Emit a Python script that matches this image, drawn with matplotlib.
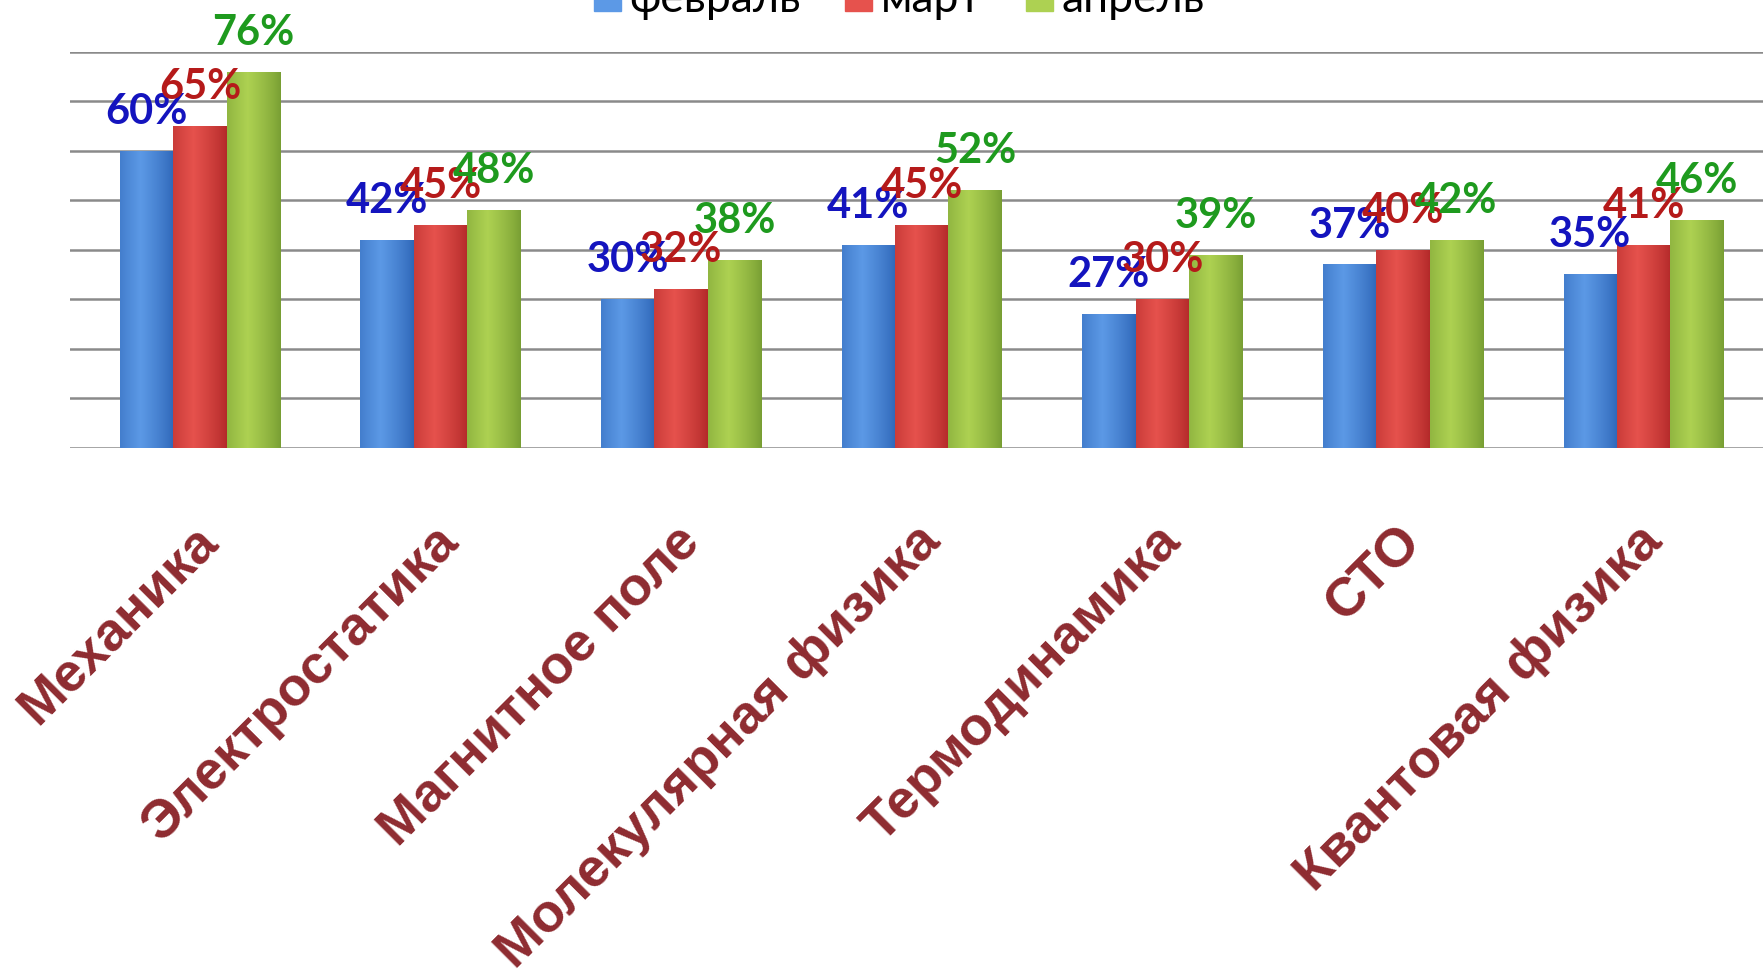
import numpy as np
import matplotlib
matplotlib.use('Agg')
import matplotlib.pyplot as plt
from matplotlib.patches import Patch
from matplotlib.transforms import ScaledTranslation

categories = ['Механика', 'Электростатика', 'Магнитное поле', 'Молекулярная физика',
              'Термодинамика', 'СТО', 'Квантовая физика']
months = ['февраль', 'март', 'апрель']
feb = [60, 42, 30, 41, 27, 37, 35]
mar = [65, 45, 32, 45, 30, 40, 41]
apr = [76, 48, 38, 52, 39, 42, 46]

# (edge colour, highlight colour, label colour)
styles = [
    ((0.18, 0.40, 0.72), (0.36, 0.60, 0.90), '#1414BE'),
    ((0.70, 0.16, 0.16), (0.90, 0.32, 0.30), '#B51A1A'),
    ((0.47, 0.62, 0.20), (0.68, 0.82, 0.32), '#1E9A1E'),
]

fig = plt.figure(figsize=(17.63, 9.71), dpi=100)
ax = fig.add_axes([0.0397, 0.5391, 0.9603, 0.4076])

x = np.arange(len(categories))
w = 0.222
series = [feb, mar, apr]

for i, vals in enumerate(series):
    edge, light, lab_col = styles[i]
    bars = ax.bar(x + (i - 1) * w, vals, w, color=light, zorder=3, linewidth=0)
    # horizontal shading to imitate the rounded bars
    t = np.linspace(0, 1, 64)
    prof = np.clip(1 - np.abs(t - 0.38) / 0.62, 0, 1) ** 0.8
    grad = np.array(edge)[None, :] + (np.array(light) - np.array(edge))[None, :] * prof[:, None]
    grad = grad[None, :, :]
    for b in bars:
        im = ax.imshow(grad, extent=[b.get_x(), b.get_x() + b.get_width(), 0, b.get_height()],
                       aspect='auto', zorder=4, interpolation='bilinear')
        im.set_clip_path(b)
    for xi, v in zip(x + (i - 1) * w, vals):
        ax.annotate(f'{v}%', (xi, v), xytext=(0, 28), textcoords='offset points',
                    ha='center', va='center', color=lab_col, fontsize=30,
                    fontweight='bold', family='Lato', zorder=6)

ax.set_xlim(-0.54, 6.496)
ax.set_ylim(0, 80)
ax.set_yticks(np.arange(0, 81, 10))
ax.set_yticklabels([])
ax.tick_params(axis='y', length=0)
ax.grid(axis='y', color='#8a8a8a', linewidth=1.8, zorder=1)
ax.set_axisbelow(True)
for s in ax.spines.values():
    s.set_visible(False)

ax.set_xticks(x)
ax.set_xticklabels(categories, rotation=45, ha='right', va='center', rotation_mode='anchor',
                   fontsize=39, fontweight='bold', family='Liberation Sans', color='#8E2B30')
ax.tick_params(axis='x', length=0, pad=62)
off = ScaledTranslation(0.10, 0, fig.dpi_scale_trans)
for lab in ax.get_xticklabels():
    lab.set_transform(lab.get_transform() + off)

handles = [Patch(color=styles[i][1], label=months[i]) for i in range(3)]
fig.legend(handles=handles, loc='center', bbox_to_anchor=(0.51, 1.0), ncol=3, frameon=False,
           prop={'family': 'Lato', 'size': 32}, handlelength=0.6, handleheight=0.6,
           handletextpad=0.2, columnspacing=1.0)

fig.savefig('out.png', dpi=100)
